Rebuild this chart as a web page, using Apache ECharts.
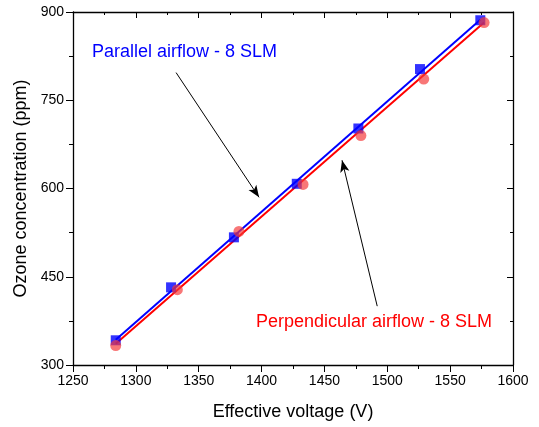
<!DOCTYPE html>
<html>
<head>
<meta charset="utf-8">
<script src="https://cdn.jsdelivr.net/npm/echarts@6/dist/echarts.min.js"></script>
<style>html,body{margin:0;padding:0;background:#fff}#c{width:539px;height:427px}</style>
</head>
<body>
<div id="c"></div>
<script>
// Data
var parallelX = [1284, 1328, 1378, 1428, 1477, 1526, 1574];
var parallelY = [342, 432, 517, 608, 702, 803, 886];
var perpX = [1284, 1333, 1382, 1433, 1479, 1529, 1577];
var perpY = [333, 428, 527, 607, 690, 786, 882];
// Linear fit line endpoints
var parallelFitX = [1284, 1574];
var parallelFitY = [343, 887];
var perpFitX = [1284, 1577];
var perpFitY = [336, 882];
// Annotation arrows (data coords)
var arrow1 = [[1332, 797], [1398, 585]];
var arrow2 = [[1492, 400], [1464, 648]];
var labelParallel = 'Parallel airflow - 8 SLM';
var labelPerp = 'Perpendicular airflow - 8 SLM';

function zip(a, b) { return a.map(function (v, i) { return [v, b[i]]; }); }

var FONT = '"Liberation Sans", Arial, sans-serif';
var chart = echarts.init(document.getElementById('c'));
var axisLineStyle = { color: '#000', width: 1.3 };
function plain(v) { return String(v); }
chart.setOption({
  animation: false,
  grid: { left: 73, right: 26, top: 12, bottom: 62 },
  xAxis: [{
    type: 'value', min: 1250, max: 1600, interval: 50,
    name: 'Effective voltage (V)', nameLocation: 'middle', nameGap: 38,
    nameTextStyle: { fontFamily: FONT, fontSize: 18, color: '#000' },
    axisLine: { show: true, lineStyle: axisLineStyle },
    axisTick: { show: true, inside: false, length: 7, lineStyle: { color: '#000' } },
    minorTick: { show: true, splitNumber: 2, length: 4, lineStyle: { color: '#000' } },
    axisLabel: { fontFamily: FONT, fontSize: 14, color: '#000', margin: 9, formatter: plain },
    splitLine: { show: false }
  }, {
    type: 'value', min: 1250, max: 1600, interval: 50, position: 'top',
    axisLine: { show: true, lineStyle: axisLineStyle },
    axisTick: { show: true, inside: true, length: 6, lineStyle: { color: '#000' } },
    minorTick: { show: true, splitNumber: 2, length: 3, lineStyle: { color: '#000' } },
    axisLabel: { show: false }, splitLine: { show: false }
  }],
  yAxis: [{
    type: 'value', min: 300, max: 900, interval: 150,
    name: 'Ozone concentration (ppm)', nameLocation: 'middle', nameGap: 43,
    nameTextStyle: { fontFamily: FONT, fontSize: 18, color: '#000' },
    axisLine: { show: true, lineStyle: axisLineStyle },
    axisTick: { show: true, inside: false, length: 7, lineStyle: { color: '#000' } },
    minorTick: { show: true, splitNumber: 2, length: 4, lineStyle: { color: '#000' } },
    axisLabel: { fontFamily: FONT, fontSize: 14, color: '#000', margin: 9, formatter: plain },
    splitLine: { show: false }
  }, {
    type: 'value', min: 300, max: 900, interval: 150, position: 'right',
    axisLine: { show: true, lineStyle: axisLineStyle },
    axisTick: { show: true, inside: true, length: 6, lineStyle: { color: '#000' } },
    minorTick: { show: true, splitNumber: 2, length: 3, lineStyle: { color: '#000' } },
    axisLabel: { show: false }, splitLine: { show: false }
  }],
  series: [
    { type: 'line', data: zip(parallelFitX, parallelFitY), showSymbol: false, symbol: 'none',
      lineStyle: { color: '#0000ff', width: 2 }, z: 2 },
    { type: 'line', data: zip(perpFitX, perpFitY), showSymbol: false, symbol: 'none',
      lineStyle: { color: '#ff0000', width: 2 }, z: 2 },
    { type: 'scatter', data: zip(parallelX, parallelY), symbol: 'rect', symbolSize: 10,
      itemStyle: { color: '#0000ff' }, z: 3 },
    { type: 'scatter', data: zip(perpX, perpY), symbol: 'circle', symbolSize: 11,
      itemStyle: { color: 'rgba(245,55,55,0.85)' }, z: 4,
      markLine: {
        silent: true, symbol: ['none', 'arrow'], symbolSize: [7, 12],
        label: { show: false },
        lineStyle: { color: '#000', width: 1, type: 'solid' },
        data: [
          [{ coord: arrow1[0] }, { coord: arrow1[1] }],
          [{ coord: arrow2[0] }, { coord: arrow2[1] }]
        ]
      }
    }
  ],
  graphic: [
    { type: 'text', left: 92, top: 43, style: { text: labelParallel, fill: '#0000ff', font: '18px ' + FONT } },
    { type: 'text', left: 256, top: 313, style: { text: labelPerp, fill: '#ff0000', font: '18px ' + FONT } }
  ]
});
</script>
</body>
</html>
